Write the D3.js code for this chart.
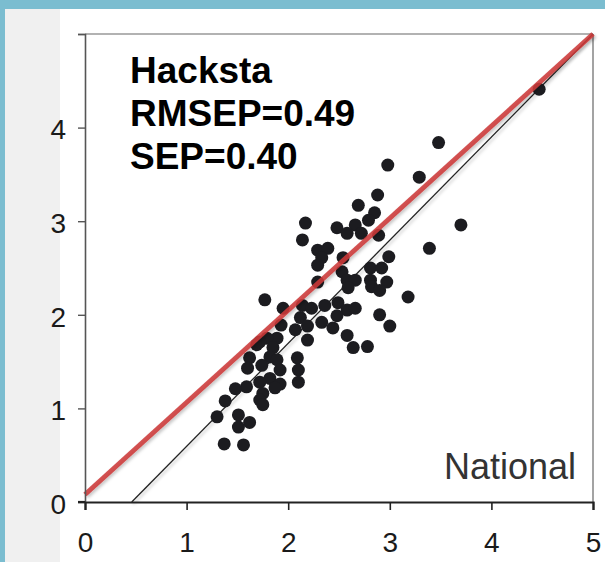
<!DOCTYPE html>
<html>
<head>
<meta charset="utf-8">
<script src="https://cdn.jsdelivr.net/npm/d3@7"></script>
<style>
  html, body { margin: 0; padding: 0; background: #fff; }
  svg { display: block; font-family: "Liberation Sans", Arial, sans-serif; }
</style>
</head>
<body>
<svg id="chart" width="605" height="562"></svg>
<script>
// National (x) vs Hacksta (y) predictions
const nationalValues = [
  4.47, 3.48, 2.98, 3.29, 2.88, 2.69, 2.85, 2.79, 3.70, 2.89,
  2.17, 2.48, 2.66, 2.58, 2.72, 2.14, 2.29, 2.39, 2.33, 2.54,
  2.99, 2.29, 2.81, 2.92, 2.53, 2.58, 2.66, 2.29, 2.81, 2.97,
  2.59, 2.82, 2.90, 3.18, 3.39, 1.77, 1.95, 2.14, 2.23, 2.36,
  2.49, 2.58, 2.66, 2.12, 2.19, 2.33, 2.44, 2.07, 1.93, 1.89,
  1.79, 1.69, 2.19, 2.58, 2.64, 2.78, 2.90, 3.00, 1.62, 1.85,
  1.82, 2.09, 1.60, 1.74, 1.89, 1.92, 2.10, 1.82, 1.72, 1.59,
  1.48, 1.92, 1.87, 2.10, 1.75, 1.72, 1.38, 1.75, 1.30, 1.51,
  1.62, 1.51, 1.37, 1.56, 2.48, 1.72
];
const hackstaValues = [
  4.41, 3.84, 3.60, 3.47, 3.28, 3.17, 3.09, 3.01, 2.96, 2.85,
  2.98, 2.93, 2.96, 2.87, 2.87, 2.80, 2.69, 2.71, 2.61, 2.61,
  2.62, 2.53, 2.50, 2.50, 2.46, 2.37, 2.37, 2.35, 2.37, 2.35,
  2.29, 2.30, 2.26, 2.19, 2.71, 2.16, 2.07, 2.10, 2.07, 2.10,
  2.13, 2.05, 2.07, 1.97, 1.88, 1.92, 1.86, 1.84, 1.89, 1.75,
  1.75, 1.68, 1.73, 1.78, 1.65, 1.66, 2.00, 1.88, 1.54, 1.65,
  1.55, 1.54, 1.43, 1.46, 1.52, 1.41, 1.41, 1.32, 1.28, 1.23,
  1.21, 1.26, 1.22, 1.28, 1.16, 1.09, 1.08, 1.04, 0.91, 0.93,
  0.85, 0.80, 0.62, 0.61, 1.99, 1.71
];

// Axis ticks
const xTicks = [0, 1, 2, 3, 4, 5];
const yTicks = [0, 1, 2, 3, 4, 5];
const yTickLabels = ["0", "1", "2", "3", "4", ""];

// Reference lines: fitted regression (red) and the 1:1 type line (black)
const fitLine = [[0, 0.08], [5, 5]];
const identityLine = [[0.46, 0], [5, 5]];

// Annotation text
const titleLines = ["Hacksta", "RMSEP=0.49", "SEP=0.40"];
const xAxisName = "National";

const svg = d3.select("#chart");
const W = 605, H = 562;

// page frame: blue rim and grey side panel
svg.append("rect").attr("x", 0).attr("y", 0).attr("width", W).attr("height", H).attr("fill", "#ffffff");
svg.append("rect").attr("x", 5).attr("y", 9).attr("width", 55).attr("height", H - 9).attr("fill", "#f0f0f0");
svg.append("rect").attr("x", 0).attr("y", 0).attr("width", W).attr("height", 9).attr("fill", "#7bbdd0");
svg.append("rect").attr("x", 0).attr("y", 0).attr("width", 5).attr("height", H).attr("fill", "#7bbdd0");

const x = d3.scaleLinear().domain([0, 5]).range([85, 593]);
const y = d3.scaleLinear().domain([0, 5]).range([502, 34]);

const defs = svg.append("defs");
const shadow = defs.append("filter").attr("id", "lineShadow")
  .attr("x", "-10%").attr("y", "-10%").attr("width", "120%").attr("height", "120%");
shadow.append("feDropShadow").attr("dx", 1.5).attr("dy", 2).attr("stdDeviation", 1.5)
  .attr("flood-color", "#000").attr("flood-opacity", 0.25);

// plot frame (top and right)
svg.append("line").attr("x1", x(0)).attr("x2", x(5)).attr("y1", y(5)).attr("y2", y(5))
  .attr("stroke", "#666").attr("stroke-width", 1.2);
svg.append("line").attr("x1", x(5)).attr("x2", x(5)).attr("y1", y(5)).attr("y2", y(0))
  .attr("stroke", "#666").attr("stroke-width", 1.2);

const line = d3.line().x(d => x(d[0])).y(d => y(d[1]));

// 1:1 line under the points
svg.append("path").datum(identityLine).attr("d", line)
  .attr("fill", "none").attr("stroke", "#222").attr("stroke-width", 1.3)
  .attr("filter", "url(#lineShadow)");

// points
const pts = nationalValues.map((v, i) => [v, hackstaValues[i]]);
svg.append("g").selectAll("circle").data(pts).join("circle")
  .attr("cx", d => x(d[0])).attr("cy", d => y(d[1])).attr("r", 6.5)
  .attr("fill", "#1c1c20");

// fitted line over the points
svg.append("path").datum(fitLine).attr("d", line)
  .attr("fill", "none").attr("stroke", "#cc3a3a").attr("stroke-width", 4.8)
  .attr("stroke-opacity", 0.88).attr("filter", "url(#lineShadow)");

// axes
const yAxis = d3.axisLeft(y).tickValues(yTicks).tickSize(7).tickPadding(12)
  .tickFormat((d, i) => yTickLabels[i]);
const gy = svg.append("g").attr("transform", `translate(${x(0)},0)`).call(yAxis);
gy.select(".domain").attr("stroke", "#555").attr("stroke-width", 1.6);
gy.selectAll(".tick line").attr("stroke", "#555").attr("stroke-width", 1.4);
gy.selectAll(".tick text").attr("font-size", 28).attr("fill", "#1a1a1a")
  .attr("font-family", "Liberation Sans, Arial, sans-serif").attr("dy", "0.4em");

const xAxis = d3.axisBottom(x).tickValues(xTicks).tickSize(8).tickPadding(22)
  .tickFormat(d3.format("d"));
const gx = svg.append("g").attr("transform", `translate(0,${y(0)})`).call(xAxis);
gx.select(".domain").attr("stroke", "#222").attr("stroke-width", 2.2);
gx.selectAll(".tick line").attr("stroke", "#222").attr("stroke-width", 1.6);
gx.selectAll(".tick text").attr("font-size", 28).attr("fill", "#1a1a1a")
  .attr("font-family", "Liberation Sans, Arial, sans-serif");

// extend bottom axis slightly to the left, like the tick stub
svg.append("line").attr("x1", x(0) - 7).attr("x2", x(0)).attr("y1", y(0)).attr("y2", y(0))
  .attr("stroke", "#222").attr("stroke-width", 2.2);

// annotation
const tg = svg.append("text").attr("x", 130).attr("y", 83)
  .attr("font-size", 37).attr("font-weight", "bold").attr("fill", "#000");
tg.selectAll("tspan").data(titleLines).join("tspan")
  .attr("x", 130).attr("dy", (d, i) => i === 0 ? 0 : 43).text(d => d);

svg.append("text").attr("x", 576).attr("y", 479).attr("text-anchor", "end")
  .attr("font-size", 36).attr("fill", "#333").text(xAxisName);
</script>
</body>
</html>
